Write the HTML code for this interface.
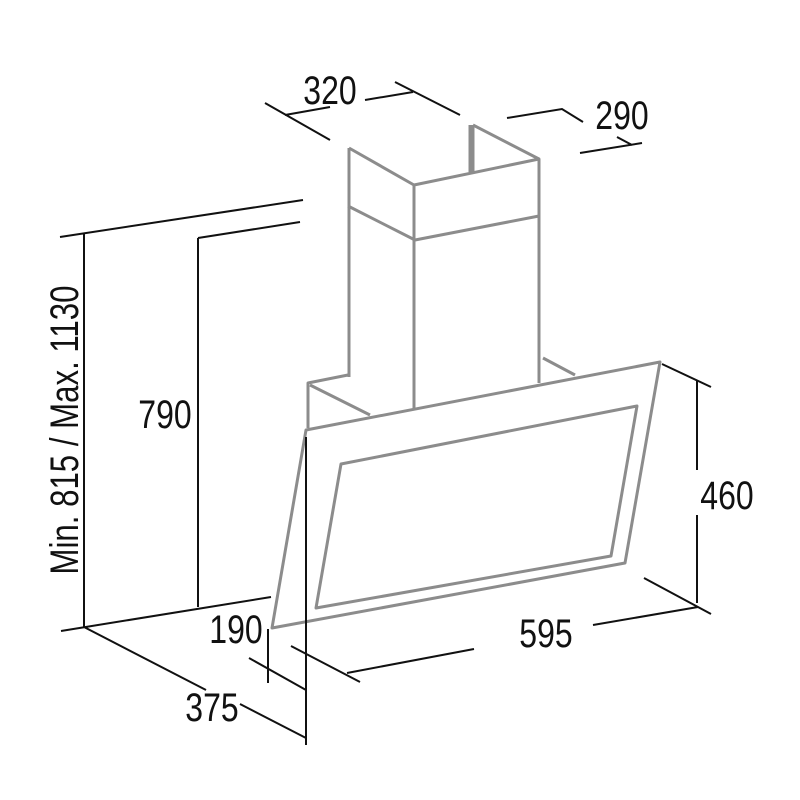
<!DOCTYPE html>
<html><head><style>body{margin:0;background:#fff}svg{display:block}</style></head><body>
<svg width="800" height="800" viewBox="0 0 800 800" xmlns="http://www.w3.org/2000/svg">
<g stroke="#8c8c8c" stroke-width="3" fill="none" stroke-linejoin="round">
<path d="M349,148 L349,377 M349,148 L414,185 L539,159 L539,383 M414,185 L414,408"/>
<path d="M470,125 L470,172 M473,125 L473,172 M473,125 L539,159"/>
<path d="M348,206 L415,240 L539,216"/>
<path d="M308,428 L308,383 L348,375 M310,385 L370,415 M543,358 L575,375"/>
<path d="M306,430 L660,362 L625,563 L272,628 Z"/>
<path d="M341,464 L637,406 L611,556 L316,608 Z"/>
</g>
<g stroke="#111" stroke-width="2" fill="none">
<path d="M265,103 L330,140 M285,115 L330,107 M365,100 L413,92 M395,82 L460,115"/>
<path d="M507,118 L562,109 L583,122 M580,153 L642,143 M617,137 L632,145"/>
<path d="M60,237 L303,200 M84,233 L84,627 M198,238 L300,222 M198,238 L198,607"/>
<path d="M61,631 L271,597 M84,627 L206,690 M240,704 L306,738 M306,437 L306,745 M268,629 L268,683 M249,658 L306,690"/>
<path d="M291,646 L360,682 M347,673 L474,649 M593,625 L698,607 M644,578 L711,614"/>
<path d="M662,364 L711,387 M697,381 L697,470 M697,515 L697,603"/>
</g>
<g font-family="Liberation Sans, sans-serif" font-size="40" fill="#111">
<text x="330" y="104" text-anchor="middle" transform="translate(330,0) scale(0.8,1) translate(-330,0)">320</text>
<text x="622" y="129" text-anchor="middle" transform="translate(622,0) scale(0.8,1) translate(-622,0)">290</text>
<text x="165" y="428" text-anchor="middle" transform="translate(165,0) scale(0.8,1) translate(-165,0)">790</text>
<text x="727" y="509" text-anchor="middle" transform="translate(727,0) scale(0.8,1) translate(-727,0)">460</text>
<text x="236" y="643" text-anchor="middle" transform="translate(236,0) scale(0.8,1) translate(-236,0)">190</text>
<text x="546" y="647" text-anchor="middle" transform="translate(546,0) scale(0.8,1) translate(-546,0)">595</text>
<text x="212" y="721" text-anchor="middle" transform="translate(212,0) scale(0.8,1) translate(-212,0)">375</text>
<text x="0" y="0" text-anchor="middle" transform="translate(78,430) rotate(-90) scale(0.78,1)">Min. 815 / Max. 1130</text>
</g>
</svg>
</body></html>
